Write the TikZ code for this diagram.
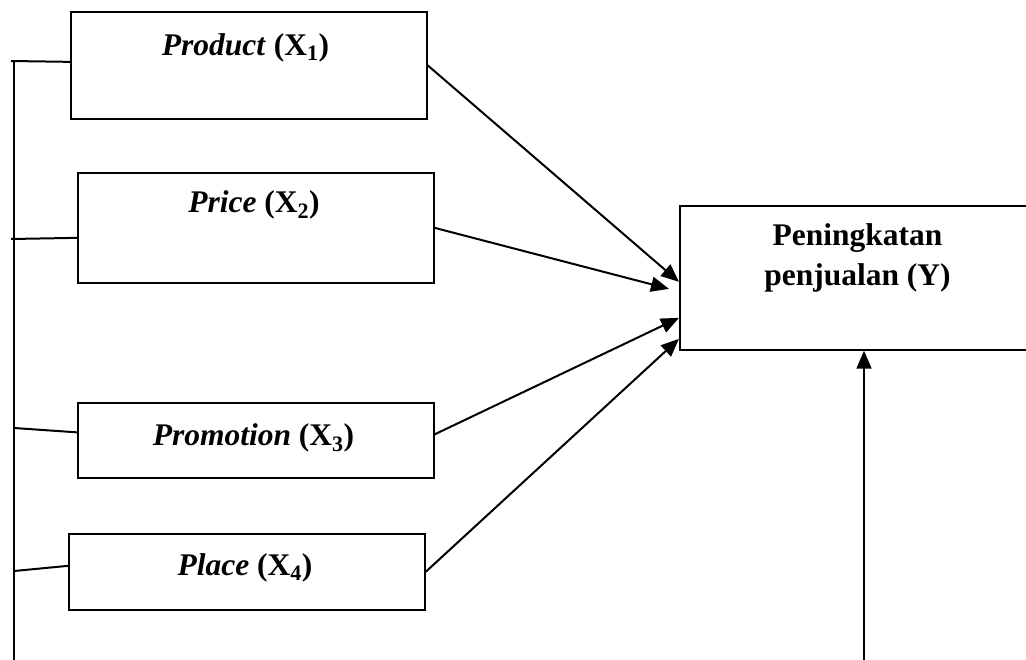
\documentclass[tikz,border=0pt]{standalone}
\usepackage{fontspec}
\setmainfont{Liberation Serif}
\usetikzlibrary{arrows.meta,calc}
\tikzset{
  varbox/.style={draw, line width=1.7pt, rectangle, inner sep=0pt, anchor=north west},
  lbl/.style={font=\fontsize{31.5}{40}\selectfont, inner sep=0pt, anchor=base},
  conn/.style={line width=2pt},
  arr/.style={line width=2pt, -{Triangle[length=18pt,width=15pt]}}
}
\begin{document}
\begin{tikzpicture}[x=1pt,y=-1pt]
\useasboundingbox (0,0) rectangle (1026,659);
% boxes
\node[varbox, minimum width=356pt, minimum height=107pt] (prod) at (70,11) {};
\node[varbox, minimum width=356pt, minimum height=110pt] (price) at (77,172) {};
\node[varbox, minimum width=356pt, minimum height=75pt] (promo) at (77,402) {};
\node[varbox, minimum width=356pt, minimum height=76pt] (place) at (68,533) {};
\node[varbox, minimum width=357pt, minimum height=144pt] (ybox) at (679,205) {};
% labels
\node[lbl] (tprod) at (245.5,55) {\textbf{\textit{Product}} \textbf{(X\textsubscript{1})}};
\node[lbl] (tprice) at (254,212) {\textbf{\textit{Price}} \textbf{(X\textsubscript{2})}};
\node[lbl] (tpromo) at (253.5,445) {\textbf{\textit{Promotion}} \textbf{(X\textsubscript{3})}};
\node[lbl] (tplace) at (245,575) {\textbf{\textit{Place}} \textbf{(X\textsubscript{4})}};
\node[font=\fontsize{31.5}{40}\selectfont\bfseries, align=center, inner sep=0pt] (ty) at (857.5,258) {Peningkatan\\penjualan (Y)};
% left bracket line
\coordinate (vtop) at (14,61);
\coordinate (vbot) at (14,660);
\coordinate (t1) at (11,61);
\coordinate (t2) at (11,239);
\coordinate (t3) at (14,428);
\coordinate (t4) at (14,571);
\draw[conn] (vtop) -- (vbot);
\draw[conn] (t1) -- ([yshift=3.5pt]prod.west);
\draw[conn] (t2) -- ([yshift=-10pt]price.west);
\draw[conn] (t3) -- ([yshift=8pt]promo.west);
\draw[conn] (t4) -- ([yshift=6pt]place.west);
% arrows
\draw[arr] (prod.east) -- ([yshift=-4pt]ybox.west);
\draw[arr] (price.east) -- ([xshift=-10pt,yshift=-11pt]ybox.west);
\draw[arr] ([yshift=6pt]promo.east) -- ([yshift=-40pt]ybox.west);
\draw[arr] (place.east) -- ([yshift=-61pt]ybox.west);
\coordinate (ybot) at (864,660);
\draw[arr] (ybot) -- (ybot |- ybox.south);
\end{tikzpicture}
\end{document}
